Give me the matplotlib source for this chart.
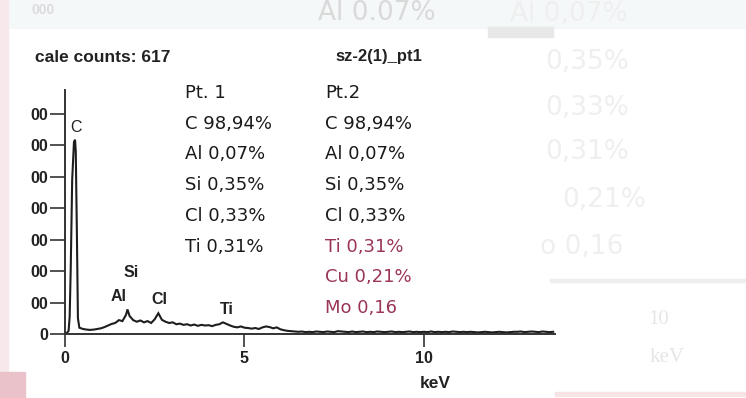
import matplotlib.pyplot as plt
from matplotlib.patches import Rectangle

# Espectro EDS (energía en keV, cuentas)
energia = [0.00, 0.05, 0.10, 0.13, 0.16, 0.20, 0.25, 0.28, 0.30, 0.33, 0.36, 0.40,
           0.5, 0.6, 0.7, 0.8, 0.9, 1.0, 1.1, 1.2, 1.3, 1.4, 1.5, 1.6, 1.7, 1.74, 1.8, 1.9,
           2.0, 2.1, 2.2, 2.3, 2.4, 2.5, 2.6, 2.7, 2.8, 2.9, 3.0, 3.1, 3.2, 3.3, 3.4, 3.5,
           3.6, 3.7, 3.8, 3.9, 4.0, 4.1, 4.2, 4.3, 4.4, 4.5, 4.6, 4.7, 4.8, 4.9, 5.0, 5.1,
           5.2, 5.3, 5.4, 5.5, 5.6, 5.7, 5.8, 5.9, 6.0, 6.1, 6.2, 6.3, 6.4, 6.5, 6.6, 6.7,
           6.8, 6.9, 7.0, 7.1, 7.2, 7.3, 7.4, 7.5, 7.6, 7.7, 7.8, 7.9, 8.0, 8.1, 8.2, 8.3,
           8.4, 8.5, 8.6, 8.7, 8.8, 8.9, 9.0, 9.1, 9.2, 9.3, 9.4, 9.5, 9.6, 9.7, 9.8, 9.9,
           10.0, 10.1, 10.2, 10.3, 10.4, 10.5, 10.6, 10.7, 10.8, 10.9, 11.0, 11.1, 11.2,
           11.3, 11.4, 11.5, 11.6, 11.7, 11.8, 11.9, 12.0, 12.1, 12.2, 12.3, 12.4, 12.5,
           12.6, 12.7, 12.8, 12.9, 13.0, 13.1, 13.2, 13.3, 13.4, 13.5, 13.6]
cuentas = [0, 3, 10, 55, 210, 490, 610, 617, 580, 330, 50, 20,
           16, 14, 13, 14, 16, 18, 22, 27, 32, 35, 44, 41, 61, 78, 57, 44,
           39, 43, 37, 41, 35, 47, 66, 45, 39, 35, 37, 31, 33, 29, 31, 27,
           30, 26, 29, 27, 28, 25, 29, 31, 37, 32, 27, 23, 21, 24, 20, 19,
           17, 19, 16, 21, 24, 22, 18, 21, 15, 12, 10, 9, 8, 7, 8, 6,
           7, 6, 8, 7, 6, 8, 7, 6, 9, 8, 7, 6, 8, 6, 7, 8,
           6, 7, 6, 8, 7, 6, 7, 8, 6, 7, 6, 7, 8, 6, 7, 6,
           7, 6, 8, 6, 7, 6, 7, 6, 8, 7, 6, 7, 6,
           7, 6, 5, 6, 7, 6, 5, 6, 7, 6, 5, 6, 7,
           7, 8, 6, 7, 8, 7, 6, 8, 7, 6, 7]

ticks_y = [0, 100, 200, 300, 400, 500, 600, 700]
etiquetas_y = ['0', '00', '00', '00', '00', '00', '00', '00']
ticks_x = [0, 5, 10]

# Picos identificados: elemento, energía, cuentas de la etiqueta
picos = ['C', 'Si', 'Al', 'Cl', 'Ti']
picos_e = [0.30, 1.85, 1.50, 2.62, 4.52]
picos_y = [655, 195, 118, 108, 78]

col1 = ['Pt. 1', 'C 98,94%', 'Al 0,07%', 'Si 0,35%', 'Cl 0,33%', 'Ti 0,31%']
col2 = ['Pt.2', 'C 98,94%', 'Al 0,07%', 'Si 0,35%', 'Cl 0,33%', 'Ti 0,31%',
        'Cu 0,21%', 'Mo 0,16']
rojo_desde = 5  # en la columna 2 las filas desde aquí van en granate

W, H = 746, 398


def px(x, y):
    return x / W, 1 - y / H


fig = plt.figure(figsize=(W / 100, H / 100), dpi=100)
fig.patch.set_facecolor('white')

# restos de la diapositiva anterior (fantasma del video)
fig.patches.append(Rectangle(px(0, 28), 1, 28 / H, transform=fig.transFigure,
                             color='#f5f8f9', zorder=0))
fig.patches.append(Rectangle(px(0, 398), 8 / W, 1, transform=fig.transFigure,
                             color='#f7e9eb', zorder=0))
fig.patches.append(Rectangle(px(0, 398), 25 / W, 26 / H, transform=fig.transFigure,
                             color='#e9c3c9', zorder=0))
fig.patches.append(Rectangle(px(488, 37), 65 / W, 10 / H, transform=fig.transFigure,
                             color='#e8e8e8', zorder=0))
fig.patches.append(Rectangle(px(555, 396), 191 / W, 4 / H, transform=fig.transFigure,
                             color='#f8e4e4', zorder=0))
fig.patches.append(Rectangle(px(550, 282), 196 / W, 3 / H, transform=fig.transFigure,
                             color='#eeeeee', zorder=0))
ghost = dict(color='#efefef', fontsize=19, family='DejaVu Sans', va='center', ha='left')
fig.text(*px(318, 13), 'Al 0.07%', color='#d9d9d9', fontsize=19, family='DejaVu Sans',
         va='center', ha='left')
fig.text(*px(510, 14), 'Al 0,07%', **ghost)
fig.text(*px(545, 62), '0,35%', **ghost)
fig.text(*px(545, 108), '0,33%', **ghost)
fig.text(*px(545, 152), '0,31%', **ghost)
fig.text(*px(562, 200), '0,21%', **ghost)
fig.text(*px(540, 247), 'o 0,16', **ghost)
fig.text(*px(648, 320), '10', color='#e6e6e6', fontsize=15, family='Liberation Serif',
         va='center')
fig.text(*px(650, 357), 'keV', color='#e6e6e6', fontsize=15, family='Liberation Serif',
         va='center')
fig.text(*px(32, 10), '000', color='#dcdcdc', fontsize=10, family='Liberation Sans',
         weight='bold', va='center')

ax = fig.add_axes([65 / W, 1 - 334 / H, (555 - 65) / W, (334 - 90) / H])
ax.plot(energia, cuentas, color='#1e1e1e', lw=1.5, solid_joinstyle='miter')
ax.set_xlim(0, 13.65)
ax.set_ylim(0, 775)
ax.set_facecolor('none')
for s in ['top', 'right']:
    ax.spines[s].set_visible(False)
for s in ['left', 'bottom']:
    ax.spines[s].set_linewidth(1.4)
    ax.spines[s].set_color('#333333')

ax.set_yticks(ticks_y)
ax.set_yticklabels(etiquetas_y)
ax.set_xticks(ticks_x)
ax.tick_params(axis='y', length=11, width=1.2, pad=1, color='#333333')
ax.tick_params(axis='x', length=9, width=1.2, pad=3, color='#333333')
for lab in ax.get_yticklabels() + ax.get_xticklabels():
    lab.set_fontfamily('Liberation Sans')
    lab.set_fontweight('bold')
    lab.set_fontsize(11.5)
    lab.set_color('#222222')

for nombre, e, y in zip(picos, picos_e, picos_y):
    ax.text(e, y, nombre, ha='center', va='center', fontsize=11.5,
            family='Liberation Sans', weight='normal' if nombre == 'C' else 'bold',
            color='#222222')

fig.text(*px(435, 383), 'keV', ha='center', va='center', fontsize=12.5,
         family='Liberation Sans', weight='bold', color='#222222')

# encabezados del software EDS (recortados en la captura)
fig.text(*px(35, 57), 'cale counts: 617', ha='left', va='center', fontsize=12.5,
         family='Liberation Sans', weight='bold', color='#222222')
fig.text(*px(335, 57), 'sz-2(1)_pt1', ha='left', va='center', fontsize=12,
         family='Liberation Sans', weight='bold', color='#222222')

# tabla de composición superpuesta
for i, t in enumerate(col1):
    fig.text(*px(185, 93 + 30.7 * i), t, ha='left', va='center', fontsize=13,
             family='DejaVu Sans', color='#1a1a1a')
for i, t in enumerate(col2):
    c = '#9b3557' if i >= rojo_desde else '#1a1a1a'
    fig.text(*px(325, 93 + 30.7 * i), t, ha='left', va='center', fontsize=13,
             family='DejaVu Sans', color=c)

fig.savefig('out.png', dpi=100)
